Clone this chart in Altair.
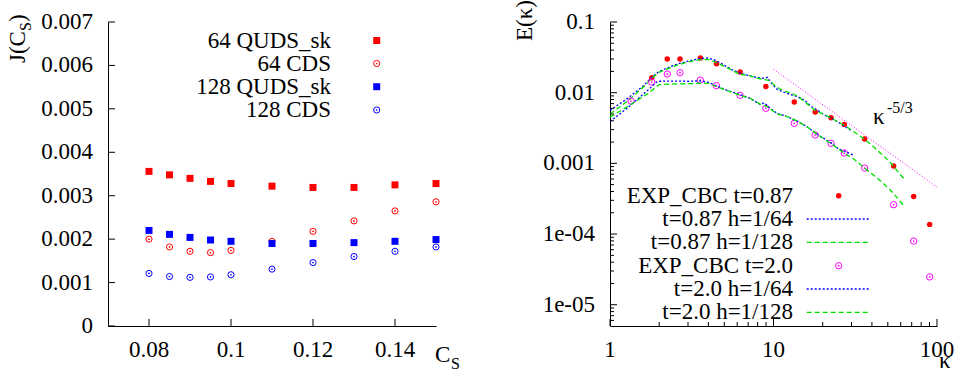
import altair as alt
import pandas as pd
import math

FONT = "Liberation Serif"
FS = 23      # main font size
FS_SUB = 16  # sub/superscript size

# ---------------- Left panel data ----------------
CS = [0.08, 0.085, 0.09, 0.095, 0.1, 0.11, 0.12, 0.13, 0.14, 0.15]
J_64_QUDS = [0.00356, 0.00348, 0.00340, 0.00333, 0.00328, 0.00322, 0.00319, 0.00319, 0.00325, 0.00328]
J_64_CDS = [0.00200, 0.00182, 0.00172, 0.00169, 0.00174, 0.00195, 0.00218, 0.00242, 0.00265, 0.00286]
J_128_QUDS = [0.00220, 0.00211, 0.00204, 0.00198, 0.00195, 0.00190, 0.00190, 0.00192, 0.00195, 0.00199]
J_128_CDS = [0.00121, 0.00114, 0.00112, 0.00113, 0.00118, 0.00131, 0.00146, 0.00160, 0.00172, 0.00182]
LEFT_LABELS = ["64 QUDS_sk", "64 CDS", "128 QUDS_sk", "128 CDS"]
LEFT_COLORS = ["#ff0000", "#ff0000", "#0000ff", "#0000ff"]

J_TICKS = [0, 0.001, 0.002, 0.003, 0.004, 0.005, 0.006, 0.007]
J_TICK_LABELS = ["0", "0.001", "0.002", "0.003", "0.004", "0.005", "0.006", "0.007"]
CS_TICKS = [0.08, 0.1, 0.12, 0.14]
CS_TICK_LABELS = ["0.08", "0.1", "0.12", "0.14"]

# ---------------- Right panel data ----------------
K_EXP_087 = [1.80, 2.24, 2.68, 3.57, 4.48, 6.25, 8.98, 13.4, 18.0, 22.5, 27.1, 36.1, 54.3, 72.0, 90.2]
E_EXP_087 = [0.0163, 0.0299, 0.0299, 0.0310, 0.0257, 0.0196, 0.0122, 0.00738, 0.00532, 0.00443,
             0.00356, 0.00221, 0.000917, 0.000341, 0.000137]
K_EXP_20 = [1.345, 1.80, 2.24, 2.68, 3.57, 4.48, 6.25, 8.98, 13.4, 18.0, 22.5, 27.1, 36.1, 54.3, 72.0, 90.2]
E_EXP_20 = [0.00762, 0.01415, 0.01836, 0.0192, 0.0151, 0.01256, 0.00917, 0.0060, 0.00368, 0.00252,
            0.00192, 0.00140, 0.000859, 0.00026, 7.96e-5, 2.47e-5]

K_087_64 = [1.0, 1.3, 1.6, 1.8, 2.0, 2.5, 3.0, 3.5, 3.9, 4.3, 4.8, 5.5, 6.2, 7.0, 8.0, 8.8, 9.2, 9.6,
            10.5, 11.5, 12.5, 14.0, 15.5, 17.0, 18.5, 20.0, 22.5, 25.0, 28.0, 30.0]
E_087_64 = [0.0056, 0.0085, 0.0125, 0.0166, 0.0200, 0.0248, 0.0280, 0.0302, 0.0310, 0.0295, 0.0258,
            0.0215, 0.0190, 0.0176, 0.0163, 0.0160, 0.0165, 0.0140, 0.0112, 0.0102, 0.0095, 0.0088,
            0.0078, 0.0064, 0.0057, 0.0050, 0.0044, 0.0038, 0.0032, 0.0029]
K_087_128 = [1.0, 1.3, 1.6, 1.8, 2.0, 2.5, 3.0, 3.5, 4.0, 4.5, 5.0, 5.5, 6.2, 7.0, 8.0, 9.0, 9.5, 10.0,
             11.0, 12.5, 14.0, 16.0, 18.0, 20.0, 22.5, 25.0, 27.5, 31.0, 36.0, 40.0, 45.0, 50.0, 54.0,
             58.0, 63.0]
E_087_128 = [0.0050, 0.0078, 0.0120, 0.0160, 0.0195, 0.0240, 0.0272, 0.0292, 0.0295, 0.0265, 0.0235,
             0.0212, 0.0182, 0.0175, 0.0160, 0.0152, 0.0148, 0.0130, 0.0112, 0.0100, 0.0090, 0.0070,
             0.0056, 0.0050, 0.0044, 0.0038, 0.0034, 0.0028, 0.0022, 0.0018, 0.0014, 0.00112,
             0.00092, 0.00075, 0.00060]
K_20_64 = [1.0, 1.3, 1.7, 1.95, 2.5, 3.0, 3.5, 3.9, 4.3, 5.2, 6.25, 7.2, 8.3, 8.8, 9.3, 10.5, 12.1,
           13.9, 16.0, 18.0, 20.0, 22.2, 25.0, 28.0, 31.0]
E_20_64 = [0.0039, 0.0063, 0.0108, 0.0145, 0.0146, 0.0145, 0.0147, 0.0143, 0.0130, 0.0108, 0.0094,
           0.0083, 0.0068, 0.0072, 0.0063, 0.0051, 0.0046, 0.0040, 0.0033, 0.0027, 0.0023, 0.0020,
           0.0016, 0.00145, 0.0013]
K_20_128 = [1.0, 1.3, 1.7, 2.0, 2.5, 3.0, 3.5, 4.0, 4.5, 5.2, 6.25, 7.2, 8.3, 9.1, 10.5, 12.1, 13.9,
            16.0, 18.0, 22.5, 27.0, 31.0, 36.0, 41.0, 47.0, 54.0, 58.0, 62.0]
E_20_128 = [0.0045, 0.0065, 0.0097, 0.0130, 0.0133, 0.0134, 0.0136, 0.0135, 0.0122, 0.0107, 0.0092,
            0.0083, 0.0069, 0.0064, 0.0050, 0.0046, 0.0040, 0.0033, 0.0027, 0.0019, 0.0014, 0.00115,
            0.00086, 0.00068, 0.00052, 0.00038, 0.00031, 0.00026]
K_SLOPE = [10, 100]
E_SLOPE = [0.0215, 0.00046]

RIGHT_LABELS = ["EXP_CBC t=0.87", "t=0.87 h=1/64", "t=0.87 h=1/128",
                "EXP_CBC t=2.0", "t=2.0 h=1/64", "t=2.0 h=1/128"]

E_TICKS = [1e-5, 1e-4, 1e-3, 1e-2, 1e-1]
E_TICK_LABELS = ["1e-05", "1e-04", "0.001", "0.01", "0.1"]
E_MINOR = [m * 10.0 ** e for e in range(-6, -1) for m in range(2, 10) if 5.5e-6 < m * 10.0 ** e < 0.1]
K_TICKS = [1, 10, 100]
K_TICK_LABELS = ["1", "10", "100"]
K_MINOR = [m * 10.0 ** e for e in range(0, 2) for m in range(2, 10)]

RED, BLUE, GREEN, MAGENTA = "#ff0000", "#0000ff", "#00e000", "#ff00ff"

W_L, W_R, H = 328, 327, 304

AXIS = alt.Axis(labels=False, ticks=False, grid=False, domain=True, domainColor="black",
                domainWidth=1, title=None)

LX_SCALE = alt.Scale(domain=[0.07, 0.15], nice=False, zero=False)
LY_SCALE = alt.Scale(domain=[0, 0.007], nice=False)
RX_SCALE = alt.Scale(type="log", domain=[1, 100], nice=False)
RY_SCALE = alt.Scale(type="log", domain=[5e-6, 0.1], nice=False)


def LX(f):
    return alt.X(f, type="quantitative", scale=LX_SCALE, axis=AXIS)


def LY(f):
    return alt.Y(f, type="quantitative", scale=LY_SCALE, axis=AXIS)


def RX(f):
    return alt.X(f, type="quantitative", scale=RX_SCALE, axis=AXIS)


def RY(f):
    return alt.Y(f, type="quantitative", scale=RY_SCALE, axis=AXIS)


def one():
    return pd.DataFrame({"a": [0]})


def text(s, x, y, size=FS, align="left", baseline="alphabetic", angle=None):
    kw = dict(text=s, font=FONT, fontSize=size, align=align, baseline=baseline, color="black")
    if angle is not None:
        kw["angle"] = angle
    return alt.Chart(one()).mark_text(**kw).encode(x=alt.value(x), y=alt.value(y))


def marker(kind, color, x, y, size):
    if kind == "square":
        return [alt.Chart(one()).mark_point(shape="square", filled=True, size=size, color=color,
                                            opacity=1).encode(x=alt.value(x), y=alt.value(y))]
    if kind == "dot":
        return [alt.Chart(one()).mark_point(shape="circle", filled=True, size=size, color=color,
                                            opacity=1).encode(x=alt.value(x), y=alt.value(y))]
    return [alt.Chart(one()).mark_point(shape="circle", filled=False, size=size, color=color,
                                        strokeWidth=1, opacity=1).encode(x=alt.value(x), y=alt.value(y)),
            alt.Chart(one()).mark_point(shape="circle", filled=True, size=3, color=color,
                                        opacity=1).encode(x=alt.value(x), y=alt.value(y))]


def tick_labels(vals, labels, X, Y, is_y):
    df = pd.DataFrame({"v": vals, "lab": labels})
    if is_y:
        return alt.Chart(df).mark_text(font=FONT, fontSize=FS, align="right", baseline="middle",
                                       color="black").encode(y=Y("v"), x=alt.value(-15), text="lab:N")
    return alt.Chart(df).mark_text(font=FONT, fontSize=FS, align="center", baseline="top",
                                   color="black").encode(x=X("v"), y=alt.value(H + 13), text="lab:N")


# ---------------- Left panel ----------------
left_layers = []
series_left = [(J_64_QUDS, "square"), (J_64_CDS, "open"), (J_128_QUDS, "square"), (J_128_CDS, "open")]
for (vals, kind), col in zip(series_left, LEFT_COLORS):
    df = pd.DataFrame({"cs": CS, "j": vals})
    enc = dict(x=LX("cs"), y=LY("j"))
    if kind == "square":
        left_layers.append(alt.Chart(df).mark_point(shape="square", filled=True, size=49, color=col,
                                                    opacity=1).encode(**enc))
    else:
        left_layers.append(alt.Chart(df).mark_point(shape="circle", filled=False, size=38, color=col,
                                                    strokeWidth=1, opacity=1).encode(**enc))
        left_layers.append(alt.Chart(df).mark_point(shape="circle", filled=True, size=3, color=col,
                                                    opacity=1).encode(**enc))

# inward ticks and tick labels
left_layers.append(alt.Chart(pd.DataFrame({"v": J_TICKS})).mark_rule(color="black", strokeWidth=1).encode(
    y=LY("v"), x=alt.value(0), x2=alt.value(7)))
left_layers.append(alt.Chart(pd.DataFrame({"v": CS_TICKS})).mark_rule(color="black", strokeWidth=1).encode(
    x=LX("v"), y=alt.value(H), y2=alt.value(H - 7)))
left_layers.append(tick_labels(J_TICKS, J_TICK_LABELS, LX, LY, True))
left_layers.append(tick_labels(CS_TICKS, CS_TICK_LABELS, LX, LY, False))

# legend
LEG_L_Y = [18.5, 41.5, 64.7, 88.0]
for i, (lab, col) in enumerate(zip(LEFT_LABELS, LEFT_COLORS)):
    left_layers.append(text(lab, 223, LEG_L_Y[i], baseline="middle", align="right"))
    left_layers += marker("square" if i % 2 == 0 else "open", col, 268.7, LEG_L_Y[i], 49 if i % 2 == 0 else 38)

# titles
left_layers.append(text("J(C", -83, 41, angle=270))
left_layers.append(text("S", -77, 9, size=FS_SUB, angle=270))
left_layers.append(text(")", -83, 0, angle=270))
left_layers.append(text("C", 327, 340))
left_layers.append(text("S", 343, 347, size=FS_SUB))

left = alt.layer(*left_layers).properties(width=W_L, height=H)

# ---------------- Right panel ----------------
right_layers = []


def renc():
    return dict(x=RX("k"), y=RY("e"))


df = pd.DataFrame({"k": K_EXP_087, "e": E_EXP_087})
right_layers.append(alt.Chart(df).mark_point(shape="circle", filled=True, size=30, color=RED,
                                             opacity=1).encode(**renc()))
for k, e, col, dash in [(K_087_64, E_087_64, BLUE, [2, 2]), (K_087_128, E_087_128, GREEN, [5, 3])]:
    d = pd.DataFrame({"k": k, "e": e})
    right_layers.append(alt.Chart(d).mark_line(color=col, strokeWidth=1.3, strokeDash=dash).encode(**renc()))
df = pd.DataFrame({"k": K_EXP_20, "e": E_EXP_20})
right_layers.append(alt.Chart(df).mark_point(shape="circle", filled=False, size=40, color=MAGENTA,
                                             strokeWidth=1, opacity=1).encode(**renc()))
right_layers.append(alt.Chart(df).mark_point(shape="circle", filled=True, size=3, color=MAGENTA,
                                             opacity=1).encode(**renc()))
for k, e, col, dash in [(K_20_64, E_20_64, BLUE, [2, 2]), (K_20_128, E_20_128, GREEN, [5, 3])]:
    d = pd.DataFrame({"k": k, "e": e})
    right_layers.append(alt.Chart(d).mark_line(color=col, strokeWidth=1.3, strokeDash=dash).encode(**renc()))
d = pd.DataFrame({"k": K_SLOPE, "e": E_SLOPE})
right_layers.append(alt.Chart(d).mark_line(color=MAGENTA, strokeWidth=1, strokeDash=[1, 2]).encode(**renc()))

# inward ticks and tick labels
for vals, ln in [(E_TICKS, 7), (E_MINOR, 4)]:
    right_layers.append(alt.Chart(pd.DataFrame({"e": vals})).mark_rule(color="black", strokeWidth=1).encode(
        y=RY("e"), x=alt.value(0), x2=alt.value(ln)))
for vals, ln in [(K_TICKS, 7), (K_MINOR, 4)]:
    right_layers.append(alt.Chart(pd.DataFrame({"k": vals})).mark_rule(color="black", strokeWidth=1).encode(
        x=RX("k"), y=alt.value(H), y2=alt.value(H - ln)))
right_layers.append(tick_labels(E_TICKS, E_TICK_LABELS, RX, RY, True))
right_layers.append(tick_labels(K_TICKS, K_TICK_LABELS, RX, RY, False))

# legend
LEG_R_Y = [173.7, 197.0, 220.3, 243.7, 267.0, 290.3]
LEG_R_STYLE = [("dot", RED), ("line", BLUE), ("dash", GREEN), ("open", MAGENTA), ("line", BLUE), ("dash", GREEN)]
for i, lab in enumerate(RIGHT_LABELS):
    y = LEG_R_Y[i]
    right_layers.append(text(lab, 183, y, baseline="middle", align="right"))
    kind, col = LEG_R_STYLE[i]
    if kind == "dot":
        right_layers += marker("dot", col, 228.7, y, 30)
    elif kind == "open":
        right_layers += marker("open", col, 228.7, y, 40)
    else:
        right_layers.append(alt.Chart(one()).mark_rule(color=col, strokeWidth=1.3,
                                                       strokeDash=[2, 2] if kind == "line" else [5, 3]).encode(
            x=alt.value(196.7), x2=alt.value(259.3), y=alt.value(y)))

# titles
right_layers.append(text("E(\u03ba)", -78, 19, angle=270))
right_layers.append(text("\u03ba", 329, 346))
right_layers.append(text("\u03ba", 263, 102))
right_layers.append(text("-5/3", 277, 91, size=FS_SUB))

right = alt.layer(*right_layers).properties(width=W_R, height=H)

chart = alt.hconcat(left, right, spacing=174, bounds="flush").properties(
    padding={"left": 7, "top": 0, "right": 0, "bottom": 0},
    background="white",
).configure_view(stroke=None)

chart.save("out.html", embed_options={"renderer": "svg", "actions": False})
